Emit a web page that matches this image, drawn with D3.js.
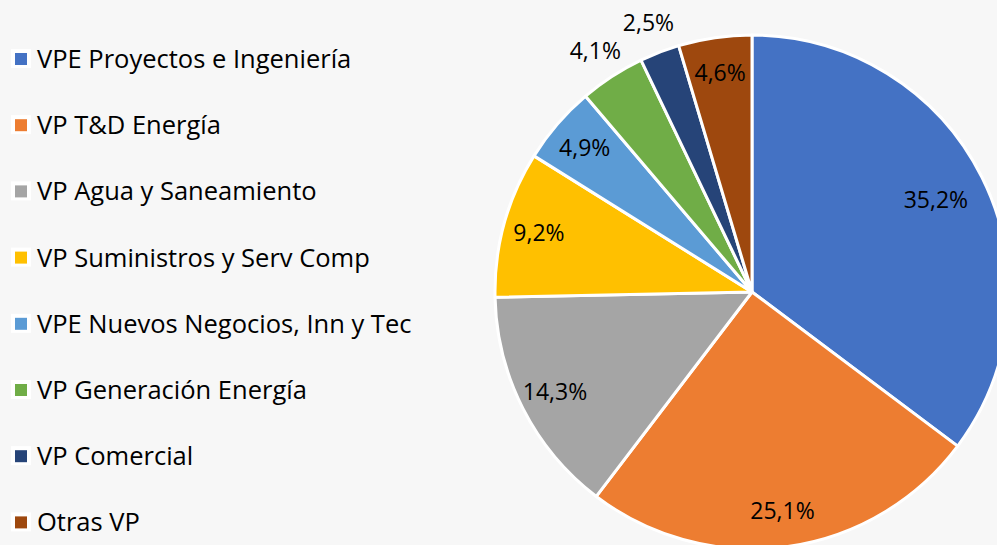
<!DOCTYPE html>
<html>
<head>
<meta charset="utf-8">
<script src="https://cdn.jsdelivr.net/npm/d3@7"></script>
<style>
  body { margin: 0; background: #f7f7f7; }
  svg { display: block; font-family: "Open Sans", "Noto Sans", sans-serif; }
</style>
</head>
<body>
<svg id="chart" width="997" height="545"></svg>
<script>
// data
var categories = ["VPE Proyectos e Ingeniería", "VP T&D Energía", "VP Agua y Saneamiento",
  "VP Suministros y Serv Comp", "VPE Nuevos Negocios, Inn y Tec", "VP Generación Energía",
  "VP Comercial", "Otras VP"];
var values = [35.2, 25.1, 14.3, 9.2, 4.9, 4.1, 2.5, 4.6];
var colors = ["#4472C4", "#ED7D31", "#A5A5A5", "#FFC000", "#5B9BD5", "#70AD47", "#264478", "#9E480E"];

var width = 997, height = 545;
var cx = 752, cy = 292, radius = 257;

var svg = d3.select('#chart');

var color = d3.scaleOrdinal().domain(categories).range(colors);

var pie = d3.pie().sort(null).value(function(d){ return d.value; });
var data = categories.map(function(c, i){ return {name: c, value: values[i]}; });
var arcs = pie(data);

var arc = d3.arc().innerRadius(0).outerRadius(radius);

var g = svg.append('g').attr('transform', "translate(" + cx + "," + cy + ")");

g.selectAll('path')
  .data(arcs)
  .join('path')
    .attr('d', arc)
    .attr('fill', d => color(d.data.name))
    .attr('stroke', '#fff')
    .attr('stroke-width', 3)
    .attr('stroke-linejoin', 'round');

function fmt(v){ return v.toFixed(1).replace('.', ',') + '%'; }

// small slices get their labels outside
g.selectAll('text.lbl')
  .data(arcs)
  .join('text')
    .classed('lbl', true)
    .attr('transform', function(d){
      var r = d.data.value < 4.5 ? radius * 1.12 : (d.index == 0 ? radius * 0.8 : radius * 0.86);
      var a = (d.startAngle + d.endAngle) / 2;
      return "translate(" + (Math.sin(a) * r) + "," + (-Math.cos(a) * r) + ")";
    })
    .attr('text-anchor', 'middle')
    .attr('dy', '0.35em')
    .attr('font-size', 23)
    .attr('fill', '#000')
    .text(d => fmt(d.data.value));

// legend
var legend = svg.append('g').attr('transform', "translate(15,59)");
var rowH = 66.2;

var items = legend.selectAll('g')
  .data(categories)
  .join('g')
    .attr('transform', (d, i) => "translate(0," + (i * rowH) + ")");

items.append('rect')
  .attr('x', -4).attr('y', -10)
  .attr('width', 20).attr('height', 19)
  .attr('fill', '#fff');

items.append('rect')
  .attr('x', 0).attr('y', -6)
  .attr('width', 12).attr('height', 12)
  .attr('fill', d => color(d));

items.append('text')
  .attr('x', 22)
  .attr('dy', '0.35em')
  .attr('font-size', 25.5)
  .attr('fill', '#000')
  .text(d => d);
</script>
</body>
</html>
